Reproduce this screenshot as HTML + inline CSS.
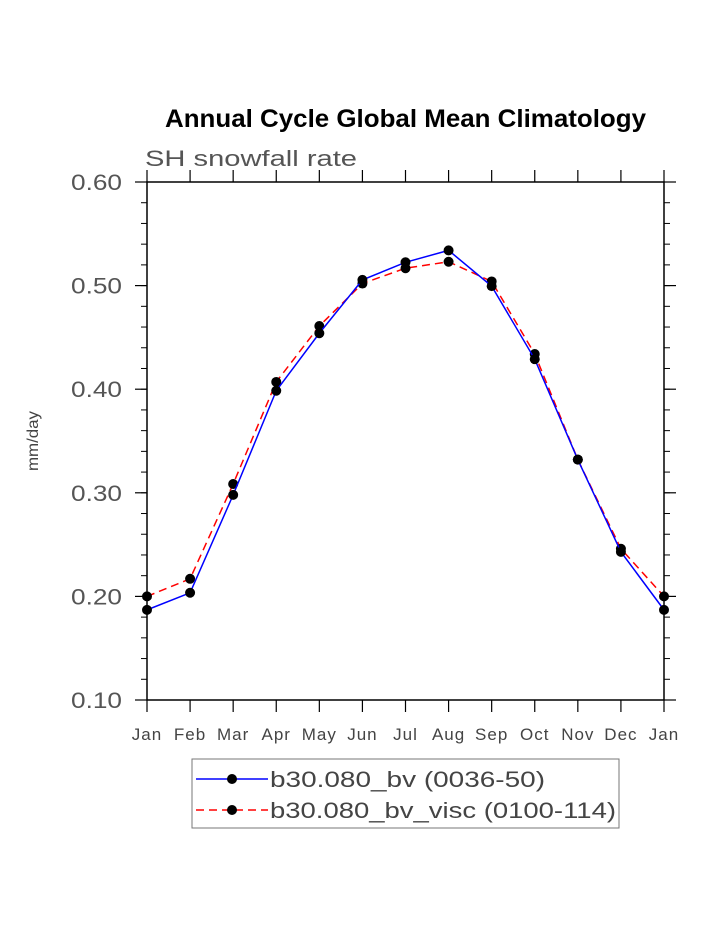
<!DOCTYPE html>
<html><head><meta charset="utf-8"><style>
body{margin:0;background:#fff;}
svg text{font-family:"Liberation Sans",sans-serif;}
</style></head><body>
<svg width="723" height="935" id="c">
<text x="165" y="127" textLength="481" lengthAdjust="spacingAndGlyphs" font-size="25" font-weight="bold">Annual Cycle Global Mean Climatology</text>
<text x="145" y="166" textLength="212" lengthAdjust="spacingAndGlyphs" font-size="22" fill="#555">SH snowfall rate</text>
<text transform="translate(38,441) rotate(-90)" text-anchor="middle" font-size="16" fill="#444" textLength="60" lengthAdjust="spacingAndGlyphs">mm/day</text>
<rect x="147" y="182" width="517" height="518" fill="none" stroke="#000" stroke-width="1.5"/>
<g id="ticks"></g><g id="series"></g>
<rect x="192" y="759" width="427" height="69" fill="none" stroke="#777"/>
<g>
<line x1="196" y1="779" x2="268" y2="779" stroke="#00f" stroke-width="1.5"/><circle cx="232" cy="779" r="5"/>
<text x="270" y="787" font-size="22" fill="#444" textLength="275" lengthAdjust="spacingAndGlyphs">b30.080_bv (0036-50)</text></g>
<g>
<line x1="196" y1="810" x2="268" y2="810" stroke="#f00" stroke-width="1.5" stroke-dasharray="8,5"/><circle cx="232" cy="810" r="5"/>
<text x="270" y="818" font-size="22" fill="#444" textLength="346" lengthAdjust="spacingAndGlyphs">b30.080_bv_visc (0100-114)</text></g>
</svg>
<script>
const months=["Jan","Feb","Mar","Apr","May","Jun","Jul","Aug","Sep","Oct","Nov","Dec","Jan"];
const bv=[0.187,0.2035,0.298,0.3985,0.454,0.5055,0.5225,0.534,0.4995,0.429,0.332,0.243,0.187];
const visc=[0.200,0.217,0.3085,0.407,0.461,0.502,0.5168,0.523,0.504,0.434,0.332,0.246,0.200];
const yTicks=[0.1,0.2,0.3,0.4,0.5,0.6];
const NS="http://www.w3.org/2000/svg";
const X=i=>147+i*517/12, Y=v=>700-(v-0.1)*1036;
function mk(t,a,p){const e=document.createElementNS(NS,t);for(const k in a)e.setAttribute(k,a[k]);p.appendChild(e);return e;}
const tk=document.getElementById('ticks');
yTicks.forEach(v=>{const y=Y(v);
mk('line',{x1:135,y1:y,x2:147,y2:y,stroke:'#000','stroke-width':1.2},tk);
mk('line',{x1:664,y1:y,x2:676,y2:y,stroke:'#000','stroke-width':1.2},tk);
const t=mk('text',{x:122,y:y+8,'text-anchor':'end','font-size':22,fill:'#555',textLength:51,lengthAdjust:'spacingAndGlyphs'},tk);


t.textContent=v.toFixed(2);});
for(let v=0.1;v<0.6;v+=0.02){const y=Y(v);
mk('line',{x1:141,y1:y,x2:147,y2:y,stroke:'#000'},tk);mk('line',{x1:664,y1:y,x2:670,y2:y,stroke:'#000'},tk);}
months.forEach((m,i)=>{const x=X(i);
mk('line',{x1:x,y1:700,x2:x,y2:712,stroke:'#000','stroke-width':1.2},tk);
mk('line',{x1:x,y1:170,x2:x,y2:182,stroke:'#000','stroke-width':1.2},tk);
const t=mk('text',{x:x,y:740,'text-anchor':'middle','font-size':17,fill:'#444','letter-spacing':1},tk);


t.textContent=m;});
const sg=document.getElementById('series');
function draw(d,col,dash,name){
const p=mk('polyline',{points:d.map((v,i)=>X(i)+','+Y(v)).join(' '),fill:'none',stroke:col,'stroke-width':1.5,'stroke-dasharray':dash},sg);


d.forEach((v,i)=>{const c=mk('circle',{cx:X(i),cy:Y(v),r:5},sg);

});}
draw(visc,'#f00','8,5','bv-visc');
draw(bv,'#00f','none','bv');
</script>
</body></html>
